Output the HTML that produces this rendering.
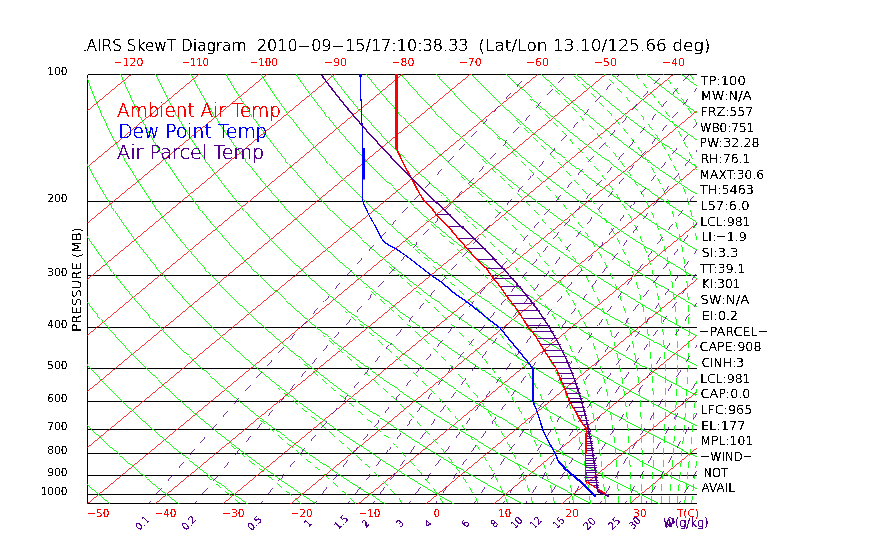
<!DOCTYPE html>
<html><head><meta charset="utf-8"><title>AIRS SkewT Diagram</title>
<style>
html,body{margin:0;padding:0;background:#fff;width:870px;height:560px;overflow:hidden}
svg{display:block;will-change:transform}
text{font-family:"DejaVu Sans","Liberation Sans",sans-serif;font-weight:200;stroke-width:0}
</style></head><body>
<svg width="870" height="560" viewBox="0 0 870 560">
<rect width="870" height="560" fill="#fff"/>
<defs><clipPath id="c"><rect x="87" y="74" width="610" height="430"/></clipPath></defs>
<g clip-path="url(#c)" fill="none" shape-rendering="crispEdges">
<g stroke="#000000"><path d="M87.5,74.5H696.5M87.5,74.5V503.5M87.5,503.5H696.5"/><path d="M87.5,201.5H696.5"/><path d="M87.5,275.5H696.5"/><path d="M87.5,327.5H696.5"/><path d="M87.5,368.5H696.5"/><path d="M87.5,401.5H696.5"/><path d="M87.5,429.5H696.5"/><path d="M87.5,453.5H696.5"/><path d="M87.5,475.5H696.5"/><path d="M87.5,494.5H696.5"/></g>
<g stroke="#ff0000" stroke-width="0.8"><line x1="-464.2" y1="511.8" x2="74.2" y2="65.6"/><line x1="-396.5" y1="511.8" x2="141.9" y2="65.6"/><line x1="-328.7" y1="511.8" x2="209.7" y2="65.6"/><line x1="-261.0" y1="511.8" x2="277.4" y2="65.6"/><line x1="-193.2" y1="511.8" x2="345.2" y2="65.6"/><line x1="-125.5" y1="511.8" x2="412.9" y2="65.6"/><line x1="-57.7" y1="511.8" x2="480.7" y2="65.6"/><line x1="10.0" y1="511.8" x2="548.4" y2="65.6"/><line x1="77.8" y1="511.8" x2="616.2" y2="65.6"/><line x1="145.5" y1="511.8" x2="683.9" y2="65.6"/><line x1="213.3" y1="511.8" x2="751.7" y2="65.6"/><line x1="281.0" y1="511.8" x2="819.4" y2="65.6"/><line x1="348.8" y1="511.8" x2="887.2" y2="65.6"/><line x1="416.5" y1="511.8" x2="954.9" y2="65.6"/><line x1="484.3" y1="511.8" x2="1022.7" y2="65.6"/><line x1="552.0" y1="511.8" x2="1090.4" y2="65.6"/><line x1="619.8" y1="511.8" x2="1158.2" y2="65.6"/><line x1="687.5" y1="511.8" x2="1225.9" y2="65.6"/></g>
<g stroke="#00ff00" stroke-width="0.9"><polyline points="119.6,511.8 113.8,507.1 108.2,502.4 102.6,497.7 97.1,493.0 91.7,488.3 86.3,483.6 81.1,478.9 75.9,474.2 70.8,469.5 65.8,464.8 60.9,460.1 56.0,455.4"/><polyline points="189.2,511.8 182.9,507.1 176.8,502.4 170.7,497.7 164.7,493.0 158.8,488.3 152.9,483.6 147.2,478.9 141.5,474.2 136.0,469.5 130.5,464.8 125.1,460.1 119.7,455.4 114.5,450.7 109.3,446.0 104.2,441.3 99.2,436.6 94.3,431.9 89.4,427.2 84.7,422.5 80.0,417.9 75.3,413.2 70.8,408.5 66.3,403.8 61.9,399.1 57.6,394.4 53.3,389.7"/><polyline points="258.8,511.8 252.0,507.1 245.4,502.4 238.8,497.7 232.3,493.0 225.9,488.3 219.5,483.6 213.3,478.9 207.2,474.2 201.1,469.5 195.1,464.8 189.3,460.1 183.5,455.4 177.7,450.7 172.1,446.0 166.6,441.3 161.1,436.6 155.7,431.9 150.4,427.2 145.2,422.5 140.0,417.9 135.0,413.2 130.0,408.5 125.1,403.8 120.2,399.1 115.5,394.4 110.8,389.7 106.2,385.0 101.7,380.3 97.2,375.6 92.9,370.9 88.6,366.2 84.3,361.5 80.2,356.8 76.1,352.1 72.1,347.4 68.1,342.7 64.3,338.0 60.5,333.3 56.7,328.6"/><polyline points="328.4,511.8 321.1,507.1 314.0,502.4 306.9,497.7 299.9,493.0 293.0,488.3 286.2,483.6 279.4,478.9 272.8,474.2 266.3,469.5 259.8,464.8 253.5,460.1 247.2,455.4 241.0,450.7 234.9,446.0 228.9,441.3 223.0,436.6 217.1,431.9 211.4,427.2 205.7,422.5 200.1,417.9 194.6,413.2 189.2,408.5 183.8,403.8 178.6,399.1 173.4,394.4 168.3,389.7 163.3,385.0 158.3,380.3 153.5,375.6 148.7,370.9 144.0,366.2 139.3,361.5 134.8,356.8 130.3,352.1 125.9,347.4 121.5,342.7 117.3,338.0 113.1,333.3 109.0,328.6 104.9,323.9 101.0,319.2 97.1,314.5 93.2,309.8 89.5,305.1 85.8,300.4 82.1,295.7 78.6,291.0 75.1,286.3 71.7,281.6 68.3,276.9 65.0,272.2 61.8,267.5 58.6,262.8 55.6,258.1"/><polyline points="398.0,511.8 390.3,507.1 382.6,502.4 375.0,497.7 367.5,493.0 360.1,488.3 352.8,483.6 345.6,478.9 338.4,474.2 331.4,469.5 324.5,464.8 317.7,460.1 310.9,455.4 304.3,450.7 297.7,446.0 291.2,441.3 284.8,436.6 278.5,431.9 272.3,427.2 266.2,422.5 260.2,417.9 254.2,413.2 248.4,408.5 242.6,403.8 236.9,399.1 231.3,394.4 225.8,389.7 220.3,385.0 215.0,380.3 209.7,375.6 204.5,370.9 199.4,366.2 194.3,361.5 189.4,356.8 184.5,352.1 179.7,347.4 174.9,342.7 170.3,338.0 165.7,333.3 161.2,328.6 156.8,323.9 152.4,319.2 148.1,314.5 143.9,309.8 139.8,305.1 135.7,300.4 131.7,295.7 127.8,291.0 124.0,286.3 120.2,281.6 116.5,276.9 112.8,272.2 109.3,267.5 105.7,262.8 102.3,258.1 98.9,253.4 95.6,248.7 92.4,244.1 89.2,239.4 86.1,234.7 83.1,230.0 80.1,225.3 77.2,220.6 74.3,215.9 71.5,211.2 68.8,206.5 66.1,201.8 63.5,197.1 61.0,192.4 58.5,187.7 56.1,183.0"/><polyline points="467.7,511.8 459.4,507.1 451.2,502.4 443.1,497.7 435.1,493.0 427.2,488.3 419.4,483.6 411.7,478.9 404.1,474.2 396.6,469.5 389.2,464.8 381.9,460.1 374.6,455.4 367.5,450.7 360.5,446.0 353.6,441.3 346.7,436.6 340.0,431.9 333.3,427.2 326.7,422.5 320.3,417.9 313.9,413.2 307.6,408.5 301.4,403.8 295.2,399.1 289.2,394.4 283.2,389.7 277.4,385.0 271.6,380.3 265.9,375.6 260.3,370.9 254.8,366.2 249.3,361.5 243.9,356.8 238.7,352.1 233.4,347.4 228.3,342.7 223.3,338.0 218.3,333.3 213.4,328.6 208.6,323.9 203.9,319.2 199.2,314.5 194.6,309.8 190.1,305.1 185.7,300.4 181.3,295.7 177.0,291.0 172.8,286.3 168.7,281.6 164.6,276.9 160.6,272.2 156.7,267.5 152.8,262.8 149.1,258.1 145.4,253.4 141.7,248.7 138.1,244.1 134.6,239.4 131.2,234.7 127.8,230.0 124.5,225.3 121.2,220.6 118.1,215.9 115.0,211.2 111.9,206.5 108.9,201.8 106.0,197.1 103.1,192.4 100.4,187.7 97.6,183.0 94.9,178.3 92.3,173.6 89.8,168.9 87.3,164.2 84.9,159.5 82.5,154.8 80.2,150.1 77.9,145.4 75.7,140.7 73.6,136.0 71.5,131.3 69.5,126.6 67.5,121.9 65.6,117.2 63.8,112.5 62.0,107.8 60.2,103.1 58.6,98.4 56.9,93.7"/><polyline points="537.3,511.8 528.5,507.1 519.8,502.4 511.2,497.7 502.7,493.0 494.3,488.3 486.0,483.6 477.8,478.9 469.7,474.2 461.7,469.5 453.8,464.8 446.0,460.1 438.4,455.4 430.8,450.7 423.3,446.0 415.9,441.3 408.6,436.6 401.4,431.9 394.3,427.2 387.3,422.5 380.3,417.9 373.5,413.2 366.8,408.5 360.1,403.8 353.6,399.1 347.1,394.4 340.7,389.7 334.4,385.0 328.2,380.3 322.1,375.6 316.1,370.9 310.2,366.2 304.3,361.5 298.5,356.8 292.8,352.1 287.2,347.4 281.7,342.7 276.3,338.0 270.9,333.3 265.6,328.6 260.4,323.9 255.3,319.2 250.3,314.5 245.3,309.8 240.5,305.1 235.7,300.4 230.9,295.7 226.3,291.0 221.7,286.3 217.2,281.6 212.8,276.9 208.4,272.2 204.2,267.5 200.0,262.8 195.8,258.1 191.8,253.4 187.8,248.7 183.9,244.1 180.0,239.4 176.2,234.7 172.5,230.0 168.9,225.3 165.3,220.6 161.8,215.9 158.4,211.2 155.0,206.5 151.7,201.8 148.5,197.1 145.3,192.4 142.2,187.7 139.2,183.0 136.2,178.3 133.3,173.6 130.4,168.9 127.6,164.2 124.9,159.5 122.3,154.8 119.7,150.1 117.1,145.4 114.6,140.7 112.2,136.0 109.8,131.3 107.5,126.6 105.3,121.9 103.1,117.2 101.0,112.5 98.9,107.8 96.9,103.1 94.9,98.4 93.0,93.7 91.2,89.0 89.4,84.3 87.7,79.6 86.0,74.9 84.4,70.3 82.8,65.6"/><polyline points="606.9,511.8 597.6,507.1 588.4,502.4 579.3,497.7 570.3,493.0 561.4,488.3 552.6,483.6 543.9,478.9 535.3,474.2 526.9,469.5 518.5,464.8 510.2,460.1 502.1,455.4 494.0,450.7 486.1,446.0 478.2,441.3 470.5,436.6 462.8,431.9 455.2,427.2 447.8,422.5 440.4,417.9 433.1,413.2 426.0,408.5 418.9,403.8 411.9,399.1 405.0,394.4 398.2,389.7 391.5,385.0 384.9,380.3 378.3,375.6 371.9,370.9 365.5,366.2 359.3,361.5 353.1,356.8 347.0,352.1 341.0,347.4 335.1,342.7 329.3,338.0 323.5,333.3 317.9,328.6 312.3,323.9 306.8,319.2 301.4,314.5 296.0,309.8 290.8,305.1 285.6,300.4 280.5,295.7 275.5,291.0 270.6,286.3 265.7,281.6 260.9,276.9 256.2,272.2 251.6,267.5 247.1,262.8 242.6,258.1 238.2,253.4 233.8,248.7 229.6,244.1 225.4,239.4 221.3,234.7 217.3,230.0 213.3,225.3 209.4,220.6 205.6,215.9 201.8,211.2 198.1,206.5 194.5,201.8 191.0,197.1 187.5,192.4 184.1,187.7 180.7,183.0 177.4,178.3 174.2,173.6 171.1,168.9 168.0,164.2 165.0,159.5 162.0,154.8 159.1,150.1 156.3,145.4 153.5,140.7 150.8,136.0 148.2,131.3 145.6,126.6 143.1,121.9 140.6,117.2 138.2,112.5 135.8,107.8 133.6,103.1 131.3,98.4 129.2,93.7 127.1,89.0 125.0,84.3 123.0,79.6 121.1,74.9 119.2,70.3 117.3,65.6"/><polyline points="676.5,511.8 666.7,507.1 657.0,502.4 647.4,497.7 637.9,493.0 628.5,488.3 619.2,483.6 610.0,478.9 601.0,474.2 592.0,469.5 583.2,464.8 574.4,460.1 565.8,455.4 557.3,450.7 548.9,446.0 540.6,441.3 532.3,436.6 524.2,431.9 516.2,427.2 508.3,422.5 500.5,417.9 492.8,413.2 485.2,408.5 477.6,403.8 470.2,399.1 462.9,394.4 455.7,389.7 448.5,385.0 441.5,380.3 434.6,375.6 427.7,370.9 420.9,366.2 414.3,361.5 407.7,356.8 401.2,352.1 394.8,347.4 388.5,342.7 382.3,338.0 376.1,333.3 370.1,328.6 364.1,323.9 358.2,319.2 352.5,314.5 346.7,309.8 341.1,305.1 335.6,300.4 330.1,295.7 324.7,291.0 319.4,286.3 314.2,281.6 309.1,276.9 304.0,272.2 299.1,267.5 294.2,262.8 289.3,258.1 284.6,253.4 279.9,248.7 275.3,244.1 270.8,239.4 266.4,234.7 262.0,230.0 257.7,225.3 253.5,220.6 249.3,215.9 245.3,211.2 241.2,206.5 237.3,201.8 233.4,197.1 229.7,192.4 225.9,187.7 222.3,183.0 218.7,178.3 215.2,173.6 211.7,168.9 208.3,164.2 205.0,159.5 201.8,154.8 198.6,150.1 195.5,145.4 192.4,140.7 189.4,136.0 186.5,131.3 183.6,126.6 180.8,121.9 178.1,117.2 175.4,112.5 172.8,107.8 170.2,103.1 167.7,98.4 165.3,93.7 162.9,89.0 160.6,84.3 158.3,79.6 156.1,74.9 154.0,70.3 151.9,65.6"/><polyline points="735.8,507.1 725.6,502.4 715.5,497.7 705.5,493.0 695.6,488.3 685.8,483.6 676.2,478.9 666.6,474.2 657.2,469.5 647.9,464.8 638.6,460.1 629.5,455.4 620.5,450.7 611.7,446.0 602.9,441.3 594.2,436.6 585.6,431.9 577.2,427.2 568.8,422.5 560.6,417.9 552.4,413.2 544.4,408.5 536.4,403.8 528.6,399.1 520.8,394.4 513.2,389.7 505.6,385.0 498.1,380.3 490.8,375.6 483.5,370.9 476.3,366.2 469.3,361.5 462.3,356.8 455.4,352.1 448.6,347.4 441.9,342.7 435.3,338.0 428.7,333.3 422.3,328.6 416.0,323.9 409.7,319.2 403.5,314.5 397.4,309.8 391.5,305.1 385.5,300.4 379.7,295.7 374.0,291.0 368.3,286.3 362.7,281.6 357.2,276.9 351.8,272.2 346.5,267.5 341.3,262.8 336.1,258.1 331.0,253.4 326.0,248.7 321.1,244.1 316.2,239.4 311.4,234.7 306.7,230.0 302.1,225.3 297.6,220.6 293.1,215.9 288.7,211.2 284.4,206.5 280.1,201.8 275.9,197.1 271.8,192.4 267.8,187.7 263.8,183.0 259.9,178.3 256.1,173.6 252.4,168.9 248.7,164.2 245.1,159.5 241.5,154.8 238.0,150.1 234.6,145.4 231.3,140.7 228.0,136.0 224.8,131.3 221.6,126.6 218.6,121.9 215.5,117.2 212.6,112.5 209.7,107.8 206.9,103.1 204.1,98.4 201.4,93.7 198.8,89.0 196.2,84.3 193.7,79.6 191.2,74.9 188.8,70.3 186.5,65.6"/><polyline points="732.2,474.2 722.3,469.5 712.5,464.8 702.8,460.1 693.3,455.4 683.8,450.7 674.5,446.0 665.2,441.3 656.1,436.6 647.1,431.9 638.2,427.2 629.3,422.5 620.6,417.9 612.0,413.2 603.6,408.5 595.2,403.8 586.9,399.1 578.7,394.4 570.6,389.7 562.7,385.0 554.8,380.3 547.0,375.6 539.3,370.9 531.7,366.2 524.3,361.5 516.9,356.8 509.6,352.1 502.4,347.4 495.3,342.7 488.3,338.0 481.4,333.3 474.5,328.6 467.8,323.9 461.2,319.2 454.6,314.5 448.2,309.8 441.8,305.1 435.5,300.4 429.3,295.7 423.2,291.0 417.2,286.3 411.2,281.6 405.4,276.9 399.6,272.2 394.0,267.5 388.4,262.8 382.8,258.1 377.4,253.4 372.1,248.7 366.8,244.1 361.6,239.4 356.5,234.7 351.5,230.0 346.5,225.3 341.6,220.6 336.8,215.9 332.1,211.2 327.5,206.5 322.9,201.8 318.4,197.1 314.0,192.4 309.6,187.7 305.4,183.0 301.2,178.3 297.1,173.6 293.0,168.9 289.0,164.2 285.1,159.5 281.3,154.8 277.5,150.1 273.8,145.4 270.2,140.7 266.6,136.0 263.1,131.3 259.7,126.6 256.3,121.9 253.0,117.2 249.8,112.5 246.6,107.8 243.5,103.1 240.5,98.4 237.5,93.7 234.6,89.0 231.8,84.3 229.0,79.6 226.3,74.9 223.6,70.3 221.0,65.6"/><polyline points="727.5,441.3 718.0,436.6 708.5,431.9 699.1,427.2 689.9,422.5 680.7,417.9 671.7,413.2 662.8,408.5 653.9,403.8 645.2,399.1 636.6,394.4 628.1,389.7 619.7,385.0 611.4,380.3 603.2,375.6 595.1,370.9 587.1,366.2 579.2,361.5 571.5,356.8 563.8,352.1 556.2,347.4 548.7,342.7 541.3,338.0 534.0,333.3 526.8,328.6 519.6,323.9 512.6,319.2 505.7,314.5 498.9,309.8 492.1,305.1 485.5,300.4 478.9,295.7 472.4,291.0 466.1,286.3 459.8,281.6 453.6,276.9 447.4,272.2 441.4,267.5 435.5,262.8 429.6,258.1 423.8,253.4 418.1,248.7 412.5,244.1 407.0,239.4 401.6,234.7 396.2,230.0 390.9,225.3 385.7,220.6 380.6,215.9 375.5,211.2 370.6,206.5 365.7,201.8 360.9,197.1 356.2,192.4 351.5,187.7 346.9,183.0 342.4,178.3 338.0,173.6 333.6,168.9 329.4,164.2 325.2,159.5 321.0,154.8 317.0,150.1 313.0,145.4 309.1,140.7 305.2,136.0 301.4,131.3 297.7,126.6 294.1,121.9 290.5,117.2 287.0,112.5 283.6,107.8 280.2,103.1 276.9,98.4 273.6,93.7 270.5,89.0 267.4,84.3 264.3,79.6 261.3,74.9 258.4,70.3 255.6,65.6"/><polyline points="731.3,413.2 722.0,408.5 712.7,403.8 703.6,399.1 694.5,394.4 685.6,389.7 676.8,385.0 668.0,380.3 659.4,375.6 650.9,370.9 642.5,366.2 634.2,361.5 626.0,356.8 617.9,352.1 610.0,347.4 602.1,342.7 594.3,338.0 586.6,333.3 579.0,328.6 571.5,323.9 564.1,319.2 556.8,314.5 549.6,309.8 542.4,305.1 535.4,300.4 528.5,295.7 521.7,291.0 514.9,286.3 508.3,281.6 501.7,276.9 495.2,272.2 488.9,267.5 482.6,262.8 476.4,258.1 470.2,253.4 464.2,248.7 458.3,244.1 452.4,239.4 446.6,234.7 440.9,230.0 435.3,225.3 429.8,220.6 424.3,215.9 419.0,211.2 413.7,206.5 408.5,201.8 403.4,197.1 398.3,192.4 393.4,187.7 388.5,183.0 383.7,178.3 378.9,173.6 374.3,168.9 369.7,164.2 365.2,159.5 360.8,154.8 356.4,150.1 352.1,145.4 347.9,140.7 343.8,136.0 339.7,131.3 335.7,126.6 331.8,121.9 328.0,117.2 324.2,112.5 320.5,107.8 316.8,103.1 313.3,98.4 309.8,93.7 306.3,89.0 303.0,84.3 299.6,79.6 296.4,74.9 293.2,70.3 290.1,65.6"/><polyline points="733.8,385.0 724.7,380.3 715.7,375.6 706.7,370.9 697.9,366.2 689.2,361.5 680.6,356.8 672.1,352.1 663.7,347.4 655.5,342.7 647.3,338.0 639.2,333.3 631.2,328.6 623.3,323.9 615.5,319.2 607.9,314.5 600.3,309.8 592.8,305.1 585.4,300.4 578.1,295.7 570.9,291.0 563.8,286.3 556.8,281.6 549.9,276.9 543.0,272.2 536.3,267.5 529.7,262.8 523.1,258.1 516.6,253.4 510.3,248.7 504.0,244.1 497.8,239.4 491.7,234.7 485.7,230.0 479.7,225.3 473.9,220.6 468.1,215.9 462.4,211.2 456.8,206.5 451.3,201.8 445.9,197.1 440.5,192.4 435.2,187.7 430.0,183.0 424.9,178.3 419.9,173.6 414.9,168.9 410.1,164.2 405.3,159.5 400.5,154.8 395.9,150.1 391.3,145.4 386.8,140.7 382.4,136.0 378.1,131.3 373.8,126.6 369.6,121.9 365.5,117.2 361.4,112.5 357.4,107.8 353.5,103.1 349.7,98.4 345.9,93.7 342.2,89.0 338.5,84.3 335.0,79.6 331.5,74.9 328.0,70.3 324.7,65.6"/><polyline points="735.2,356.8 726.3,352.1 717.5,347.4 708.8,342.7 700.3,338.0 691.8,333.3 683.4,328.6 675.2,323.9 667.0,319.2 658.9,314.5 651.0,309.8 643.1,305.1 635.4,300.4 627.7,295.7 620.1,291.0 612.7,286.3 605.3,281.6 598.0,276.9 590.8,272.2 583.8,267.5 576.8,262.8 569.9,258.1 563.1,253.4 556.3,248.7 549.7,244.1 543.2,239.4 536.7,234.7 530.4,230.0 524.1,225.3 517.9,220.6 511.8,215.9 505.8,211.2 499.9,206.5 494.1,201.8 488.3,197.1 482.7,192.4 477.1,187.7 471.6,183.0 466.2,178.3 460.8,173.6 455.6,168.9 450.4,164.2 445.3,159.5 440.3,154.8 435.3,150.1 430.5,145.4 425.7,140.7 421.0,136.0 416.4,131.3 411.8,126.6 407.3,121.9 402.9,117.2 398.6,112.5 394.3,107.8 390.2,103.1 386.0,98.4 382.0,93.7 378.0,89.0 374.1,84.3 370.3,79.6 366.6,74.9 362.9,70.3 359.2,65.6"/><polyline points="727.0,323.9 718.5,319.2 710.0,314.5 701.7,309.8 693.4,305.1 685.3,300.4 677.3,295.7 669.4,291.0 661.5,286.3 653.8,281.6 646.2,276.9 638.6,272.2 631.2,267.5 623.9,262.8 616.6,258.1 609.5,253.4 602.4,248.7 595.4,244.1 588.6,239.4 581.8,234.7 575.1,230.0 568.5,225.3 562.0,220.6 555.6,215.9 549.3,211.2 543.0,206.5 536.9,201.8 530.8,197.1 524.8,192.4 518.9,187.7 513.1,183.0 507.4,178.3 501.8,173.6 496.2,168.9 490.7,164.2 485.4,159.5 480.0,154.8 474.8,150.1 469.7,145.4 464.6,140.7 459.6,136.0 454.7,131.3 449.8,126.6 445.1,121.9 440.4,117.2 435.8,112.5 431.3,107.8 426.8,103.1 422.4,98.4 418.1,93.7 413.9,89.0 409.7,84.3 405.6,79.6 401.6,74.9 397.7,70.3 393.8,65.6"/><polyline points="726.9,295.7 718.6,291.0 710.4,286.3 702.3,281.6 694.3,276.9 686.4,272.2 678.7,267.5 671.0,262.8 663.4,258.1 655.9,253.4 648.5,248.7 641.2,244.1 634.0,239.4 626.9,234.7 619.8,230.0 612.9,225.3 606.1,220.6 599.4,215.9 592.7,211.2 586.1,206.5 579.7,201.8 573.3,197.1 567.0,192.4 560.8,187.7 554.7,183.0 548.7,178.3 542.7,173.6 536.9,168.9 531.1,164.2 525.4,159.5 519.8,154.8 514.3,150.1 508.8,145.4 503.5,140.7 498.2,136.0 493.0,131.3 487.9,126.6 482.8,121.9 477.9,117.2 473.0,112.5 468.2,107.8 463.5,103.1 458.8,98.4 454.2,93.7 449.7,89.0 445.3,84.3 441.0,79.6 436.7,74.9 432.5,70.3 428.4,65.6"/><polyline points="734.2,272.2 726.1,267.5 718.1,262.8 710.1,258.1 702.3,253.4 694.6,248.7 686.9,244.1 679.4,239.4 671.9,234.7 664.6,230.0 657.3,225.3 650.2,220.6 643.1,215.9 636.1,211.2 629.3,206.5 622.5,201.8 615.8,197.1 609.2,192.4 602.7,187.7 596.2,183.0 589.9,178.3 583.7,173.6 577.5,168.9 571.4,164.2 565.4,159.5 559.5,154.8 553.7,150.1 548.0,145.4 542.4,140.7 536.8,136.0 531.3,131.3 525.9,126.6 520.6,121.9 515.4,117.2 510.2,112.5 505.1,107.8 500.1,103.1 495.2,98.4 490.4,93.7 485.6,89.0 480.9,84.3 476.3,79.6 471.8,74.9 467.3,70.3 462.9,65.6"/><polyline points="732.6,244.1 724.8,239.4 717.0,234.7 709.3,230.0 701.7,225.3 694.2,220.6 686.9,215.9 679.6,211.2 672.4,206.5 665.3,201.8 658.3,197.1 651.3,192.4 644.5,187.7 637.8,183.0 631.2,178.3 624.6,173.6 618.1,168.9 611.8,164.2 605.5,159.5 599.3,154.8 593.2,150.1 587.2,145.4 581.2,140.7 575.4,136.0 569.6,131.3 563.9,126.6 558.4,121.9 552.8,117.2 547.4,112.5 542.1,107.8 536.8,103.1 531.6,98.4 526.5,93.7 521.5,89.0 516.5,84.3 511.6,79.6 506.8,74.9 502.1,70.3 497.5,65.6"/><polyline points="730.6,215.9 723.0,211.2 715.5,206.5 708.1,201.8 700.7,197.1 693.5,192.4 686.4,187.7 679.3,183.0 672.4,178.3 665.6,173.6 658.8,168.9 652.1,164.2 645.5,159.5 639.1,154.8 632.7,150.1 626.3,145.4 620.1,140.7 614.0,136.0 607.9,131.3 602.0,126.6 596.1,121.9 590.3,117.2 584.6,112.5 579.0,107.8 573.4,103.1 568.0,98.4 562.6,93.7 557.3,89.0 552.1,84.3 547.0,79.6 541.9,74.9 536.9,70.3 532.0,65.6"/><polyline points="728.2,187.7 720.9,183.0 713.7,178.3 706.5,173.6 699.4,168.9 692.5,164.2 685.6,159.5 678.8,154.8 672.1,150.1 665.5,145.4 659.0,140.7 652.6,136.0 646.3,131.3 640.0,126.6 633.9,121.9 627.8,117.2 621.8,112.5 615.9,107.8 610.1,103.1 604.4,98.4 598.7,93.7 593.2,89.0 587.7,84.3 582.3,79.6 577.0,74.9 571.7,70.3 566.6,65.6"/><polyline points="732.8,164.2 725.6,159.5 718.6,154.8 711.6,150.1 704.7,145.4 697.9,140.7 691.2,136.0 684.6,131.3 678.0,126.6 671.6,121.9 665.3,117.2 659.0,112.5 652.8,107.8 646.8,103.1 640.8,98.4 634.8,93.7 629.0,89.0 623.3,84.3 617.6,79.6 612.0,74.9 606.6,70.3 601.1,65.6"/><polyline points="729.8,136.0 722.9,131.3 716.1,126.6 709.4,121.9 702.7,117.2 696.2,112.5 689.8,107.8 683.4,103.1 677.1,98.4 671.0,93.7 664.9,89.0 658.9,84.3 652.9,79.6 647.1,74.9 641.4,70.3 635.7,65.6"/><polyline points="726.7,107.8 720.1,103.1 713.5,98.4 707.1,93.7 700.7,89.0 694.5,84.3 688.3,79.6 682.2,74.9 676.2,70.3 670.3,65.6"/></g>
<g stroke="#00ff00" stroke-width="0.9" stroke-dasharray="7 5"><polyline points="240.1,503.3 234.2,498.5 228.2,493.7 222.3,488.9 216.4,484.1 210.5,479.3 204.7,474.5"/><polyline points="300.8,503.3 295.1,498.5 289.4,493.7 283.7,488.9 277.9,484.1 272.1,479.3 266.3,474.5 260.5,469.6 254.6,464.8 248.8,460.0 243.0,455.2 237.2,450.4 231.4,445.6"/><polyline points="355.6,503.3 350.6,498.5 345.4,493.7 340.2,488.9 334.9,484.1 329.5,479.3 324.1,474.5 318.5,469.6 312.9,464.8 307.3,460.0 301.6,455.2 295.9,450.4 290.2,445.6 284.5,440.8 278.7,436.0 273.0,431.2 267.3,426.4 261.5,421.5 255.9,416.7"/><polyline points="403.4,503.3 399.2,498.5 394.8,493.7 390.4,488.9 385.8,484.1 381.1,479.3 376.3,474.5 371.3,469.6 366.3,464.8 361.2,460.0 356.0,455.2 350.7,450.4 345.3,445.6 339.9,440.8 334.4,436.0 328.9,431.2 323.3,426.4 317.7,421.5 312.0,416.7 306.4,411.9 300.7,407.1 295.1,402.3 289.4,397.5 283.8,392.7 278.2,387.9"/><polyline points="444.2,503.3 440.8,498.5 437.3,493.7 433.6,488.9 429.9,484.1 426.0,479.3 421.9,474.5 417.8,469.6 413.5,464.8 409.1,460.0 404.6,455.2 400.0,450.4 395.3,445.6 390.4,440.8 385.5,436.0 380.4,431.2 375.3,426.4 370.1,421.5 364.8,416.7 359.4,411.9 354.0,407.1 348.6,402.3 343.1,397.5 337.5,392.7 332.0,387.9 326.4,383.1 320.8,378.2 315.2,373.4 309.7,368.6 304.1,363.8 298.6,359.0"/><polyline points="478.8,503.3 476.1,498.5 473.3,493.7 470.4,488.9 467.4,484.1 464.3,479.3 461.1,474.5 457.7,469.6 454.3,464.8 450.7,460.0 447.0,455.2 443.1,450.4 439.2,445.6 435.1,440.8 430.9,436.0 426.5,431.2 422.1,426.4 417.5,421.5 412.8,416.7 408.0,411.9 403.1,407.1 398.1,402.3 393.1,397.5 387.9,392.7 382.7,387.9 377.4,383.1 372.0,378.2 366.6,373.4 361.2,368.6 355.7,363.8 350.2,359.0 344.7,354.2 339.2,349.4 333.7,344.6 328.2,339.8 322.8,334.9"/><polyline points="508.1,503.3 506.0,498.5 503.9,493.7 501.6,488.9 499.3,484.1 496.9,479.3 494.3,474.5 491.7,469.6 489.0,464.8 486.1,460.0 483.2,455.2 480.1,450.4 476.9,445.6 473.6,440.8 470.2,436.0 466.6,431.2 462.9,426.4 459.1,421.5 455.2,416.7 451.1,411.9 446.9,407.1 442.6,402.3 438.2,397.5 433.7,392.7 429.0,387.9 424.2,383.1 419.4,378.2 414.4,373.4 409.3,368.6 404.2,363.8 399.0,359.0 393.8,354.2 388.4,349.4 383.1,344.6 377.7,339.8 372.3,334.9 366.9,330.1 361.5,325.3 356.0,320.5 350.6,315.7 345.2,310.9"/><polyline points="533.2,503.3 531.6,498.5 530.0,493.7 528.3,488.9 526.5,484.1 524.6,479.3 522.7,474.5 520.6,469.6 518.5,464.8 516.3,460.0 514.0,455.2 511.6,450.4 509.1,445.6 506.5,440.8 503.8,436.0 501.0,431.2 498.1,426.4 495.0,421.5 491.8,416.7 488.5,411.9 485.1,407.1 481.6,402.3 477.9,397.5 474.1,392.7 470.1,387.9 466.1,383.1 461.9,378.2 457.6,373.4 453.1,368.6 448.6,363.8 443.9,359.0 439.1,354.2 434.3,349.4 429.3,344.6 424.3,339.8 419.2,334.9 414.0,330.1 408.8,325.3 403.5,320.5 398.2,315.7 392.8,310.9 387.5,306.1 382.1,301.3 376.8,296.5 371.4,291.7 366.1,286.8"/><polyline points="554.9,503.3 553.7,498.5 552.5,493.7 551.2,488.9 549.8,484.1 548.4,479.3 547.0,474.5 545.4,469.6 543.8,464.8 542.2,460.0 540.4,455.2 538.6,450.4 536.7,445.6 534.7,440.8 532.6,436.0 530.4,431.2 528.1,426.4 525.7,421.5 523.3,416.7 520.7,411.9 517.9,407.1 515.1,402.3 512.2,397.5 509.1,392.7 505.9,387.9 502.6,383.1 499.1,378.2 495.5,373.4 491.8,368.6 488.0,363.8 484.0,359.0 479.9,354.2 475.7,349.4 471.3,344.6 466.9,339.8 462.3,334.9 457.6,330.1 452.8,325.3 447.9,320.5 443.0,315.7 437.9,310.9 432.8,306.1 427.7,301.3 422.5,296.5 417.2,291.7 412.0,286.8 406.7,282.0 401.4,277.2 396.1,272.4 390.8,267.6 385.6,262.8"/><polyline points="573.8,503.3 572.9,498.5 572.0,493.7 571.1,488.9 570.1,484.1 569.1,479.3 568.0,474.5 566.9,469.6 565.7,464.8 564.5,460.0 563.2,455.2 561.8,450.4 560.4,445.6 558.9,440.8 557.3,436.0 555.6,431.2 553.9,426.4 552.1,421.5 550.2,416.7 548.2,411.9 546.1,407.1 543.9,402.3 541.6,397.5 539.2,392.7 536.7,387.9 534.1,383.1 531.3,378.2 528.5,373.4 525.5,368.6 522.4,363.8 519.1,359.0 515.7,354.2 512.2,349.4 508.6,344.6 504.8,339.8 500.9,334.9 496.9,330.1 492.7,325.3 488.4,320.5 484.0,315.7 479.5,310.9 474.9,306.1 470.1,301.3 465.3,296.5 460.4,291.7 455.4,286.8 450.4,282.0 445.3,277.2 440.1,272.4 435.0,267.6 429.8,262.8 424.5,258.0 419.3,253.2 414.1,248.4 408.9,243.5 403.7,238.7"/><polyline points="590.5,503.3 589.9,498.5 589.3,493.7 588.6,488.9 587.9,484.1 587.2,479.3 586.5,474.5 585.7,469.6 584.8,464.8 583.9,460.0 583.0,455.2 582.0,450.4 580.9,445.6 579.8,440.8 578.7,436.0 577.5,431.2 576.2,426.4 574.8,421.5 573.4,416.7 571.9,411.9 570.3,407.1 568.7,402.3 567.0,397.5 565.1,392.7 563.2,387.9 561.2,383.1 559.1,378.2 556.8,373.4 554.5,368.6 552.0,363.8 549.5,359.0 546.8,354.2 544.0,349.4 541.1,344.6 538.0,339.8 534.8,334.9 531.5,330.1 528.0,325.3 524.4,320.5 520.7,315.7 516.8,310.9 512.8,306.1 508.7,301.3 504.5,296.5 500.1,291.7 495.6,286.8 491.0,282.0 486.3,277.2 481.6,272.4 476.7,267.6 471.8,262.8 466.8,258.0 461.7,253.2 456.6,248.4 451.5,243.5 446.4,238.7 441.2,233.9 436.0,229.1 430.9,224.3 425.7,219.5"/><polyline points="605.4,503.3 605.0,498.5 604.6,493.7 604.2,488.9 603.7,484.1 603.2,479.3 602.7,474.5 602.2,469.6 601.6,464.8 601.0,460.0 600.4,455.2 599.7,450.4 599.0,445.6 598.2,440.8 597.4,436.0 596.5,431.2 595.6,426.4 594.6,421.5 593.6,416.7 592.5,411.9 591.4,407.1 590.2,402.3 588.9,397.5 587.5,392.7 586.1,387.9 584.6,383.1 583.0,378.2 581.3,373.4 579.5,368.6 577.7,363.8 575.7,359.0 573.6,354.2 571.4,349.4 569.2,344.6 566.8,339.8 564.2,334.9 561.6,330.1 558.8,325.3 555.9,320.5 552.9,315.7 549.7,310.9 546.4,306.1 543.0,301.3 539.4,296.5 535.7,291.7 531.9,286.8 527.9,282.0 523.8,277.2 519.5,272.4 515.2,267.6 510.7,262.8 506.2,258.0 501.5,253.2 496.8,248.4 491.9,243.5 487.0,238.7 482.1,233.9 477.1,229.1 472.0,224.3 466.9,219.5 461.8,214.7 456.7,209.9 451.6,205.1 446.5,200.3 441.4,195.4"/><polyline points="618.7,503.3 618.5,498.5 618.3,493.7 618.0,488.9 617.8,484.1 617.5,479.3 617.2,474.5 616.9,469.6 616.6,464.8 616.2,460.0 615.8,455.2 615.4,450.4 614.9,445.6 614.4,440.8 613.9,436.0 613.3,431.2 612.7,426.4 612.0,421.5 611.3,416.7 610.6,411.9 609.8,407.1 608.9,402.3 608.0,397.5 607.1,392.7 606.0,387.9 605.0,383.1 603.8,378.2 602.6,373.4 601.3,368.6 599.9,363.8 598.4,359.0 596.8,354.2 595.2,349.4 593.5,344.6 591.6,339.8 589.7,334.9 587.7,330.1 585.5,325.3 583.2,320.5 580.9,315.7 578.4,310.9 575.7,306.1 573.0,301.3 570.1,296.5 567.0,291.7 563.9,286.8 560.6,282.0 557.2,277.2 553.6,272.4 549.9,267.6 546.0,262.8 542.0,258.0 537.9,253.2 533.7,248.4 529.4,243.5 524.9,238.7 520.4,233.9 515.7,229.1 511.0,224.3 506.1,219.5 501.3,214.7 496.3,209.9 491.4,205.1 486.3,200.3 481.3,195.4 476.3,190.6 471.2,185.8 466.1,181.0 461.1,176.2"/><polyline points="630.7,503.3 630.7,498.5 630.6,493.7 630.6,488.9 630.5,484.1 630.4,479.3 630.3,474.5 630.1,469.6 630.0,464.8 629.8,460.0 629.6,455.2 629.4,450.4 629.1,445.6 628.9,440.8 628.6,436.0 628.2,431.2 627.9,426.4 627.5,421.5 627.0,416.7 626.6,411.9 626.1,407.1 625.5,402.3 624.9,397.5 624.3,392.7 623.6,387.9 622.8,383.1 622.0,378.2 621.2,373.4 620.2,368.6 619.3,363.8 618.2,359.0 617.1,354.2 615.9,349.4 614.6,344.6 613.3,339.8 611.8,334.9 610.3,330.1 608.7,325.3 607.0,320.5 605.1,315.7 603.2,310.9 601.2,306.1 599.0,301.3 596.8,296.5 594.4,291.7 591.9,286.8 589.2,282.0 586.5,277.2 583.6,272.4 580.5,267.6 577.4,262.8 574.0,258.0 570.6,253.2 567.0,248.4 563.2,243.5 559.4,238.7 555.4,233.9 551.3,229.1 547.0,224.3 542.6,219.5 538.2,214.7 533.6,209.9 529.0,205.1 524.2,200.3 519.4,195.4 514.5,190.6 509.6,185.8 504.7,181.0 499.7,176.2 494.7,171.4 489.7,166.6 484.7,161.8 479.7,157.0"/><polyline points="641.7,503.3 641.8,498.5 641.8,493.7 641.9,488.9 642.0,484.1 642.0,479.3 642.0,474.5 642.1,469.6 642.1,464.8 642.1,460.0 642.0,455.2 642.0,450.4 641.9,445.6 641.8,440.8 641.7,436.0 641.6,431.2 641.4,426.4 641.3,421.5 641.0,416.7 640.8,411.9 640.5,407.1 640.2,402.3 639.9,397.5 639.5,392.7 639.1,387.9 638.6,383.1 638.1,378.2 637.6,373.4 637.0,368.6 636.3,363.8 635.6,359.0 634.8,354.2 634.0,349.4 633.1,344.6 632.2,339.8 631.2,334.9 630.1,330.1 628.9,325.3 627.6,320.5 626.3,315.7 624.9,310.9 623.3,306.1 621.7,301.3 620.0,296.5 618.2,291.7 616.3,286.8 614.2,282.0 612.1,277.2 609.8,272.4 607.4,267.6 604.8,262.8 602.2,258.0 599.4,253.2 596.4,248.4 593.4,243.5 590.1,238.7 586.8,233.9 583.3,229.1 579.6,224.3 575.9,219.5 571.9,214.7 567.9,209.9 563.7,205.1 559.5,200.3 555.1,195.4 550.6,190.6 546.0,185.8 541.3,181.0 536.6,176.2 531.8,171.4 526.9,166.6 522.0,161.8 517.1,157.0 512.2,152.1 507.2,147.3 502.3,142.5 497.3,137.7"/><polyline points="651.7,503.3 651.9,498.5 652.1,493.7 652.3,488.9 652.4,484.1 652.6,479.3 652.8,474.5 652.9,469.6 653.1,464.8 653.2,460.0 653.3,455.2 653.4,450.4 653.5,445.6 653.6,440.8 653.6,436.0 653.7,431.2 653.7,426.4 653.7,421.5 653.6,416.7 653.6,411.9 653.5,407.1 653.4,402.3 653.3,397.5 653.1,392.7 652.9,387.9 652.7,383.1 652.5,378.2 652.2,373.4 651.8,368.6 651.5,363.8 651.0,359.0 650.6,354.2 650.0,349.4 649.5,344.6 648.9,339.8 648.2,334.9 647.4,330.1 646.6,325.3 645.8,320.5 644.8,315.7 643.8,310.9 642.7,306.1 641.6,301.3 640.3,296.5 639.0,291.7 637.5,286.8 636.0,282.0 634.4,277.2 632.7,272.4 630.8,267.6 628.9,262.8 626.8,258.0 624.6,253.2 622.3,248.4 619.8,243.5 617.2,238.7 614.5,233.9 611.7,229.1 608.7,224.3 605.5,219.5 602.2,214.7 598.8,209.9 595.3,205.1 591.6,200.3 587.7,195.4 583.7,190.6 579.6,185.8 575.4,181.0 571.1,176.2 566.7,171.4 562.2,166.6 557.5,161.8 552.9,157.0 548.1,152.1 543.3,147.3 538.5,142.5 533.6,137.7 528.7,132.9 523.8,128.1 518.9,123.3 514.0,118.5"/><polyline points="660.9,503.3 661.2,498.5 661.5,493.7 661.8,488.9 662.0,484.1 662.3,479.3 662.6,474.5 662.9,469.6 663.1,464.8 663.4,460.0 663.6,455.2 663.8,450.4 664.0,445.6 664.2,440.8 664.4,436.0 664.6,431.2 664.8,426.4 664.9,421.5 665.1,416.7 665.2,411.9 665.3,407.1 665.3,402.3 665.4,397.5 665.4,392.7 665.4,387.9 665.4,383.1 665.3,378.2 665.3,373.4 665.1,368.6 665.0,363.8 664.8,359.0 664.6,354.2 664.3,349.4 664.0,344.6 663.7,339.8 663.3,334.9 662.8,330.1 662.4,325.3 661.8,320.5 661.2,315.7 660.5,310.9 659.8,306.1 659.0,301.3 658.2,296.5 657.2,291.7 656.2,286.8 655.1,282.0 653.9,277.2 652.7,272.4 651.3,267.6 649.9,262.8 648.3,258.0 646.7,253.2 644.9,248.4 643.0,243.5 641.0,238.7 638.9,233.9 636.6,229.1 634.2,224.3 631.7,219.5 629.1,214.7 626.3,209.9 623.3,205.1 620.3,200.3 617.0,195.4 613.7,190.6 610.2,185.8 606.5,181.0 602.7,176.2 598.8,171.4 594.8,166.6 590.6,161.8 586.3,157.0 582.0,152.1 577.5,147.3 572.9,142.5 568.3,137.7 563.6,132.9 558.8,128.1 554.0,123.3 549.2,118.5 544.4,113.7 539.5,108.8 534.7,104.0 529.8,99.2"/><polyline points="669.4,503.3 669.8,498.5 670.1,493.7 670.5,488.9 670.9,484.1 671.3,479.3 671.6,474.5 672.0,469.6 672.3,464.8 672.7,460.0 673.0,455.2 673.4,450.4 673.7,445.6 674.0,440.8 674.3,436.0 674.6,431.2 674.9,426.4 675.2,421.5 675.5,416.7 675.7,411.9 675.9,407.1 676.2,402.3 676.4,397.5 676.5,392.7 676.7,387.9 676.9,383.1 677.0,378.2 677.1,373.4 677.1,368.6 677.2,363.8 677.2,359.0 677.2,354.2 677.1,349.4 677.1,344.6 677.0,339.8 676.8,334.9 676.6,330.1 676.4,325.3 676.1,320.5 675.8,315.7 675.4,310.9 675.0,306.1 674.5,301.3 674.0,296.5 673.4,291.7 672.7,286.8 672.0,282.0 671.2,277.2 670.3,272.4 669.4,267.6 668.3,262.8 667.2,258.0 666.0,253.2 664.7,248.4 663.3,243.5 661.8,238.7 660.2,233.9 658.5,229.1 656.7,224.3 654.7,219.5 652.7,214.7 650.5,209.9 648.1,205.1 645.7,200.3 643.1,195.4 640.3,190.6 637.4,185.8 634.4,181.0 631.2,176.2 627.9,171.4 624.4,166.6 620.8,161.8 617.1,157.0 613.2,152.1 609.2,147.3 605.1,142.5 600.8,137.7 596.5,132.9 592.0,128.1 587.5,123.3 582.9,118.5 578.3,113.7 573.6,108.8 568.8,104.0 564.0,99.2 559.2,94.4 554.4,89.6 549.6,84.8"/><polyline points="677.3,503.3 677.7,498.5 678.2,493.7 678.6,488.9 679.1,484.1 679.5,479.3 680.0,474.5 680.4,469.6 680.8,464.8 681.3,460.0 681.7,455.2 682.1,450.4 682.6,445.6 683.0,440.8 683.4,436.0 683.8,431.2 684.2,426.4 684.6,421.5 685.0,416.7 685.3,411.9 685.7,407.1 686.1,402.3 686.4,397.5 686.7,392.7 687.0,387.9 687.3,383.1 687.6,378.2 687.8,373.4 688.0,368.6 688.3,363.8 688.4,359.0 688.6,354.2 688.7,349.4 688.8,344.6 688.9,339.8 689.0,334.9 689.0,330.1 689.0,325.3 688.9,320.5 688.8,315.7 688.7,310.9 688.5,306.1 688.3,301.3 688.0,296.5 687.7,291.7 687.4,286.8 686.9,282.0 686.5,277.2 685.9,272.4 685.3,267.6 684.6,262.8 683.9,258.0 683.1,253.2 682.2,248.4 681.2,243.5 680.1,238.7 679.0,233.9 677.7,229.1 676.4,224.3 674.9,219.5 673.4,214.7 671.7,209.9 669.9,205.1 668.0,200.3 666.0,195.4 663.8,190.6 661.5,185.8 659.1,181.0 656.5,176.2 653.8,171.4 651.0,166.6 648.0,161.8 644.8,157.0 641.5,152.1 638.1,147.3 634.5,142.5 630.8,137.7 626.9,132.9 622.9,128.1 618.8,123.3 614.6,118.5 610.3,113.7 605.9,108.8 601.4,104.0 596.8,99.2 592.2,94.4 587.5,89.6 582.8,84.8 578.1,80.0 573.3,75.2 568.5,70.4 563.8,65.6"/><polyline points="684.6,503.3 685.1,498.5 685.6,493.7 686.2,488.9 686.7,484.1 687.2,479.3 687.7,474.5 688.2,469.6 688.7,464.8 689.2,460.0 689.8,455.2 690.3,450.4 690.8,445.6 691.3,440.8 691.8,436.0 692.3,431.2 692.8,426.4 693.3,421.5 693.7,416.7 694.2,411.9 694.7,407.1 695.1,402.3 695.6,397.5 696.0,392.7 696.4,387.9 696.8,383.1 697.2,378.2 697.6,373.4 698.0,368.6 698.3,363.8 698.7,359.0 699.0,354.2 699.3,349.4 699.5,344.6 699.8,339.8 700.0,334.9 700.2,330.1 700.4,325.3 700.5,320.5 700.6,315.7 700.7,310.9 700.7,306.1 700.7,301.3 700.7,296.5 700.6,291.7 700.5,286.8 700.3,282.0 700.1,277.2 699.9,272.4 699.5,267.6 699.2,262.8 698.7,258.0 698.2,253.2 697.7,248.4 697.1,243.5 696.4,238.7 695.6,233.9 694.7,229.1 693.8,224.3 692.8,219.5 691.7,214.7 690.4,209.9 689.1,205.1 687.7,200.3 686.2,195.4 684.6,190.6 682.8,185.8 680.9,181.0 678.9,176.2 676.8,171.4 674.5,166.6 672.1,161.8 669.5,157.0 666.8,152.1 664.0,147.3 661.0,142.5 657.9,137.7 654.6,132.9 651.1,128.1 647.6,123.3 643.9,118.5 640.0,113.7 636.0,108.8 631.9,104.0 627.7,99.2 623.4,94.4 619.0,89.6 614.6,84.8 610.0,80.0 605.4,75.2 600.8,70.4 596.1,65.6"/><polyline points="691.5,503.3 692.0,498.5 692.6,493.7 693.2,488.9 693.8,484.1 694.3,479.3 694.9,474.5 695.5,469.6 696.1,464.8 696.7,460.0 697.2,455.2 697.8,450.4 698.4,445.6 699.0,440.8 699.6,436.0 700.1,431.2 700.7,426.4 701.3,421.5 701.9,416.7 702.4,411.9 703.0,407.1 703.5,402.3 704.1,397.5 704.6,392.7 705.1,387.9 705.6,383.1 706.1,378.2 706.6,373.4 707.1,368.6 707.6,363.8 708.0,359.0 708.5,354.2 708.9,349.4 709.3,344.6 709.7,339.8 710.1,334.9 710.4,330.1 710.7,325.3 711.0,320.5 711.3,315.7 711.6,310.9 711.8,306.1 712.0,301.3 712.1,296.5 712.3,291.7 712.4,286.8 712.4,282.0 712.4,277.2 712.4,272.4 712.3,267.6 712.2,262.8 712.0,258.0 711.8,253.2 711.5,248.4 711.2,243.5 710.8,238.7 710.4,233.9 709.8,229.1 709.3,224.3 708.6,219.5 707.8,214.7 707.0,209.9 706.1,205.1 705.1,200.3 704.0,195.4 702.8,190.6 701.6,185.8 700.2,181.0 698.7,176.2 697.0,171.4 695.3,166.6 693.4,161.8 691.4,157.0 689.3,152.1 687.0,147.3 684.6,142.5 682.1,137.7 679.4,132.9 676.5,128.1 673.5,123.3 670.4,118.5 667.1,113.7 663.6,108.8 660.1,104.0 656.3,99.2 652.5,94.4 648.5,89.6 644.4,84.8 640.2,80.0 635.9,75.2 631.5,70.4 627.1,65.6"/><polyline points="697.9,503.3 698.5,498.5 699.1,493.7 699.7,488.9 700.4,484.1 701.0,479.3 701.6,474.5 702.3,469.6 702.9,464.8 703.6,460.0 704.2,455.2 704.9,450.4 705.5,445.6 706.1,440.8 706.8,436.0 707.4,431.2 708.1,426.4 708.7,421.5 709.4,416.7 710.0,411.9 710.7,407.1 711.3,402.3 711.9,397.5 712.5,392.7 713.2,387.9 713.8,383.1 714.4,378.2 715.0,373.4 715.5,368.6 716.1,363.8 716.7,359.0 717.2,354.2 717.8,349.4 718.3,344.6 718.8,339.8 719.3,334.9 719.8,330.1 720.2,325.3 720.7,320.5 721.1,315.7 721.5,310.9 721.9,306.1 722.2,301.3 722.5,296.5 722.8,291.7 723.1,286.8 723.3,282.0 723.5,277.2 723.7,272.4 723.9,267.6 723.9,262.8 724.0,258.0 724.0,253.2 724.0,248.4 723.9,243.5 723.8,238.7 723.6,233.9 723.4,229.1 723.1,224.3 722.7,219.5 722.3,214.7 721.8,209.9 721.2,205.1 720.6,200.3 719.9,195.4 719.1,190.6 718.2,185.8 717.2,181.0 716.1,176.2 715.0,171.4 713.7,166.6 712.3,161.8 710.8,157.0 709.2,152.1 707.4,147.3 705.6,142.5 703.6,137.7 701.4,132.9 699.1,128.1 696.7,123.3 694.1,118.5 691.4,113.7 688.6,108.8 685.5,104.0 682.4,99.2 679.1,94.4 675.6,89.6 672.0,84.8 668.3,80.0 664.4,75.2 660.4,70.4 656.3,65.6"/><polyline points="703.9,503.3 704.6,498.5 705.2,493.7 705.9,488.9 706.6,484.1 707.3,479.3 707.9,474.5 708.6,469.6 709.3,464.8 710.0,460.0 710.7,455.2 711.4,450.4 712.1,445.6 712.8,440.8 713.6,436.0 714.3,431.2 715.0,426.4 715.7,421.5 716.4,416.7 717.1,411.9 717.8,407.1 718.5,402.3 719.2,397.5 719.9,392.7 720.6,387.9 721.3,383.1 722.0,378.2 722.7,373.4 723.3,368.6 724.0,363.8 724.7,359.0 725.3,354.2 725.9,349.4 726.6,344.6 726.8,152.1 725.5,147.3 724.1,142.5 722.6,137.7 721.0,132.9 719.2,128.1 717.3,123.3 715.3,118.5 713.1,113.7 710.8,108.8 708.4,104.0 705.8,99.2 703.0,94.4 700.1,89.6 697.1,84.8 693.9,80.0 690.5,75.2 687.1,70.4 683.4,65.6"/></g>
<g stroke="#550090" stroke-width="0.8" stroke-dasharray="8 9" stroke-dashoffset="5"><polyline points="148.5,503.3 152.6,498.5 156.7,493.7 160.8,488.9 164.9,484.1 169.1,479.3 173.2,474.5 177.3,469.6 181.4,464.8 185.6,460.0 189.7,455.2 193.8,450.4 198.0,445.6 202.1,440.8 206.3,436.0 210.4,431.2 214.6,426.4 218.7,421.5 222.9,416.7 227.1,411.9 231.2,407.1 235.4,402.3 239.6,397.5 243.8,392.7 248.0,387.9 252.2,383.1 256.4,378.2 260.6,373.4 264.8,368.6 269.0,363.8 273.2,359.0 277.4,354.2 281.6,349.4 285.8,344.6 290.0,339.8 294.3,334.9 298.5,330.1 302.7,325.3 307.0,320.5 311.2,315.7 315.5,310.9 319.7,306.1 324.0,301.3 328.2,296.5 332.5,291.7 336.7,286.8 341.0,282.0 345.3,277.2 349.5,272.4 353.8,267.6 358.1,262.8 362.4,258.0 366.7,253.2 370.9,248.4 375.2,243.5 379.5,238.7 383.8,233.9 388.1,229.1 392.4,224.3 396.7,219.5 401.0,214.7 405.4,209.9 409.7,205.1 414.0,200.3 418.3,195.4 422.6,190.6 427.0,185.8 431.3,181.0 435.6,176.2 440.0,171.4 444.3,166.6 448.7,161.8 453.0,157.0 457.4,152.1 461.7,147.3 466.1,142.5 470.4,137.7 474.8,132.9 479.1,128.1 483.5,123.3 487.9,118.5 492.3,113.7 496.6,108.8 501.0,104.0 505.4,99.2 509.8,94.4 514.2,89.6 518.6,84.8 522.9,80.0 527.3,75.2 531.7,70.4 536.1,65.6"/><polyline points="194.8,503.3 198.8,498.5 202.7,493.7 206.7,488.9 210.7,484.1 214.7,479.3 218.8,474.5 222.8,469.6 226.8,464.8 230.8,460.0 234.8,455.2 238.9,450.4 242.9,445.6 246.9,440.8 251.0,436.0 255.0,431.2 259.1,426.4 263.1,421.5 267.2,416.7 271.3,411.9 275.3,407.1 279.4,402.3 283.5,397.5 287.6,392.7 291.7,387.9 295.7,383.1 299.8,378.2 303.9,373.4 308.0,368.6 312.1,363.8 316.3,359.0 320.4,354.2 324.5,349.4 328.6,344.6 332.7,339.8 336.9,334.9 341.0,330.1 345.1,325.3 349.3,320.5 353.4,315.7 357.6,310.9 361.7,306.1 365.9,301.3 370.0,296.5 374.2,291.7 378.4,286.8 382.6,282.0 386.7,277.2 390.9,272.4 395.1,267.6 399.3,262.8 403.5,258.0 407.7,253.2 411.9,248.4 416.1,243.5 420.3,238.7 424.5,233.9 428.7,229.1 432.9,224.3 437.1,219.5 441.3,214.7 445.6,209.9 449.8,205.1 454.0,200.3 458.3,195.4 462.5,190.6 466.7,185.8 471.0,181.0 475.2,176.2 479.5,171.4 483.8,166.6 488.0,161.8 492.3,157.0 496.5,152.1 500.8,147.3 505.1,142.5 509.4,137.7 513.6,132.9 517.9,128.1 522.2,123.3 526.5,118.5 530.8,113.7 535.1,108.8 539.4,104.0 543.7,99.2 548.0,94.4 552.3,89.6 556.6,84.8 560.9,80.0 565.3,75.2 569.6,70.4 573.9,65.6"/><polyline points="260.8,503.3 264.6,498.5 268.4,493.7 272.2,488.9 276.1,484.1 279.9,479.3 283.7,474.5 287.6,469.6 291.4,464.8 295.3,460.0 299.2,455.2 303.0,450.4 306.9,445.6 310.8,440.8 314.7,436.0 318.6,431.2 322.4,426.4 326.3,421.5 330.3,416.7 334.2,411.9 338.1,407.1 342.0,402.3 345.9,397.5 349.8,392.7 353.8,387.9 357.7,383.1 361.7,378.2 365.6,373.4 369.5,368.6 373.5,363.8 377.5,359.0 381.4,354.2 385.4,349.4 389.4,344.6 393.4,339.8 397.3,334.9 401.3,330.1 405.3,325.3 409.3,320.5 413.3,315.7 417.3,310.9 421.3,306.1 425.3,301.3 429.4,296.5 433.4,291.7 437.4,286.8 441.5,282.0 445.5,277.2 449.5,272.4 453.6,267.6 457.6,262.8 461.7,258.0 465.7,253.2 469.8,248.4 473.9,243.5 477.9,238.7 482.0,233.9 486.1,229.1 490.2,224.3 494.3,219.5 498.4,214.7 502.4,209.9 506.5,205.1 510.6,200.3 514.8,195.4 518.9,190.6 523.0,185.8 527.1,181.0 531.2,176.2 535.4,171.4 539.5,166.6 543.6,161.8 547.8,157.0 551.9,152.1 556.0,147.3 560.2,142.5 564.4,137.7 568.5,132.9 572.7,128.1 576.8,123.3 581.0,118.5 585.2,113.7 589.4,108.8 593.5,104.0 597.7,99.2 601.9,94.4 606.1,89.6 610.3,84.8 614.5,80.0 618.7,75.2 622.9,70.4 627.1,65.6"/><polyline points="314.8,503.3 318.5,498.5 322.2,493.7 325.9,488.9 329.5,484.1 333.2,479.3 336.9,474.5 340.6,469.6 344.4,464.8 348.1,460.0 351.8,455.2 355.5,450.4 359.3,445.6 363.0,440.8 366.7,436.0 370.5,431.2 374.2,426.4 378.0,421.5 381.8,416.7 385.5,411.9 389.3,407.1 393.1,402.3 396.9,397.5 400.7,392.7 404.5,387.9 408.3,383.1 412.1,378.2 415.9,373.4 419.7,368.6 423.6,363.8 427.4,359.0 431.2,354.2 435.1,349.4 438.9,344.6 442.8,339.8 446.6,334.9 450.5,330.1 454.4,325.3 458.2,320.5 462.1,315.7 466.0,310.9 469.9,306.1 473.8,301.3 477.7,296.5 481.6,291.7 485.5,286.8 489.4,282.0 493.3,277.2 497.2,272.4 501.2,267.6 505.1,262.8 509.0,258.0 513.0,253.2 516.9,248.4 520.9,243.5 524.8,238.7 528.8,233.9 532.7,229.1 536.7,224.3 540.7,219.5 544.7,214.7 548.6,209.9 552.6,205.1 556.6,200.3 560.6,195.4 564.6,190.6 568.6,185.8 572.6,181.0 576.7,176.2 580.7,171.4 584.7,166.6 588.7,161.8 592.8,157.0 596.8,152.1 600.8,147.3 604.9,142.5 608.9,137.7 613.0,132.9 617.0,128.1 621.1,123.3 625.2,118.5 629.2,113.7 633.3,108.8 637.4,104.0 641.5,99.2 645.5,94.4 649.6,89.6 653.7,84.8 657.8,80.0 661.9,75.2 666.0,70.4 670.1,65.6"/><polyline points="348.3,503.3 351.9,498.5 355.5,493.7 359.1,488.9 362.7,484.1 366.3,479.3 369.9,474.5 373.5,469.6 377.1,464.8 380.7,460.0 384.3,455.2 388.0,450.4 391.6,445.6 395.3,440.8 398.9,436.0 402.6,431.2 406.3,426.4 409.9,421.5 413.6,416.7 417.3,411.9 421.0,407.1 424.7,402.3 428.4,397.5 432.1,392.7 435.8,387.9 439.5,383.1 443.3,378.2 447.0,373.4 450.7,368.6 454.5,363.8 458.2,359.0 462.0,354.2 465.7,349.4 469.5,344.6 473.3,339.8 477.0,334.9 480.8,330.1 484.6,325.3 488.4,320.5 492.2,315.7 496.0,310.9 499.8,306.1 503.6,301.3 507.4,296.5 511.3,291.7 515.1,286.8 518.9,282.0 522.8,277.2 526.6,272.4 530.5,267.6 534.3,262.8 538.2,258.0 542.1,253.2 545.9,248.4 549.8,243.5 553.7,238.7 557.6,233.9 561.5,229.1 565.4,224.3 569.3,219.5 573.2,214.7 577.1,209.9 581.0,205.1 584.9,200.3 588.8,195.4 592.8,190.6 596.7,185.8 600.6,181.0 604.6,176.2 608.5,171.4 612.5,166.6 616.4,161.8 620.4,157.0 624.4,152.1 628.3,147.3 632.3,142.5 636.3,137.7 640.3,132.9 644.3,128.1 648.3,123.3 652.3,118.5 656.3,113.7 660.3,108.8 664.3,104.0 668.3,99.2 672.3,94.4 676.4,89.6 680.4,84.8 684.4,80.0 688.5,75.2 692.5,70.4 696.6,65.6"/><polyline points="373.0,503.3 376.5,498.5 380.0,493.7 383.5,488.9 387.0,484.1 390.5,479.3 394.1,474.5 397.6,469.6 401.2,464.8 404.7,460.0 408.3,455.2 411.9,450.4 415.4,445.6 419.0,440.8 422.6,436.0 426.2,431.2 429.8,426.4 433.4,421.5 437.0,416.7 440.6,411.9 444.3,407.1 447.9,402.3 451.5,397.5 455.2,392.7 458.8,387.9 462.5,383.1 466.1,378.2 469.8,373.4 473.5,368.6 477.2,363.8 480.9,359.0 484.6,354.2 488.2,349.4 492.0,344.6 495.7,339.8 499.4,334.9 503.1,330.1 506.8,325.3 510.6,320.5 514.3,315.7 518.0,310.9 521.8,306.1 525.5,301.3 529.3,296.5 533.1,291.7 536.8,286.8 540.6,282.0 544.4,277.2 548.2,272.4 552.0,267.6 555.8,262.8 559.6,258.0 563.4,253.2 567.2,248.4 571.0,243.5 574.9,238.7 578.7,233.9 582.5,229.1 586.4,224.3 590.2,219.5 594.1,214.7 597.9,209.9 601.8,205.1 605.6,200.3 609.5,195.4 613.4,190.6 617.3,185.8 621.2,181.0 625.0,176.2 628.9,171.4 632.8,166.6 636.8,161.8 640.7,157.0 644.6,152.1 648.5,147.3 652.4,142.5 656.4,137.7 660.3,132.9 664.2,128.1 668.2,123.3 672.1,118.5 676.1,113.7 680.0,108.8 684.0,104.0 688.0,99.2 691.9,94.4 695.9,89.6 699.9,84.8 703.9,80.0 707.9,75.2 711.9,70.4 715.9,65.6"/><polyline points="409.0,503.3 412.4,498.5 415.8,493.7 419.2,488.9 422.6,484.1 426.1,479.3 429.5,474.5 432.9,469.6 436.4,464.8 439.8,460.0 443.3,455.2 446.8,450.4 450.2,445.6 453.7,440.8 457.2,436.0 460.7,431.2 464.2,426.4 467.7,421.5 471.2,416.7 474.7,411.9 478.3,407.1 481.8,402.3 485.3,397.5 488.9,392.7 492.4,387.9 496.0,383.1 499.6,378.2 503.2,373.4 506.7,368.6 510.3,363.8 513.9,359.0 517.5,354.2 521.1,349.4 524.7,344.6 528.3,339.8 532.0,334.9 535.6,330.1 539.2,325.3 542.9,320.5 546.5,315.7 550.2,310.9 553.8,306.1 557.5,301.3 561.2,296.5 564.9,291.7 568.5,286.8 572.2,282.0 575.9,277.2 579.6,272.4 583.3,267.6 587.1,262.8 590.8,258.0 594.5,253.2 598.2,248.4 602.0,243.5 605.7,238.7 609.5,233.9 613.2,229.1 617.0,224.3 620.7,219.5 624.5,214.7 628.3,209.9 632.1,205.1 635.8,200.3 639.6,195.4 643.4,190.6 647.2,185.8 651.0,181.0 654.9,176.2 658.7,171.4 662.5,166.6 666.3,161.8 670.2,157.0 674.0,152.1 677.8,147.3 681.7,142.5 685.5,137.7 689.4,132.9 693.3,128.1 697.1,123.3 701.0,118.5 704.9,113.7 708.8,108.8 712.7,104.0 716.6,99.2 720.5,94.4 724.4,89.6 728.3,84.8"/><polyline points="435.6,503.3 438.9,498.5 442.2,493.7 445.5,488.9 448.9,484.1 452.2,479.3 455.6,474.5 458.9,469.6 462.3,464.8 465.7,460.0 469.1,455.2 472.4,450.4 475.8,445.6 479.2,440.8 482.7,436.0 486.1,431.2 489.5,426.4 492.9,421.5 496.4,416.7 499.8,411.9 503.3,407.1 506.7,402.3 510.2,397.5 513.7,392.7 517.2,387.9 520.7,383.1 524.2,378.2 527.7,373.4 531.2,368.6 534.7,363.8 538.2,359.0 541.7,354.2 545.3,349.4 548.8,344.6 552.4,339.8 555.9,334.9 559.5,330.1 563.1,325.3 566.6,320.5 570.2,315.7 573.8,310.9 577.4,306.1 581.0,301.3 584.6,296.5 588.2,291.7 591.8,286.8 595.5,282.0 599.1,277.2 602.7,272.4 606.4,267.6 610.0,262.8 613.7,258.0 617.3,253.2 621.0,248.4 624.7,243.5 628.4,238.7 632.0,233.9 635.7,229.1 639.4,224.3 643.1,219.5 646.8,214.7 650.6,209.9 654.3,205.1 658.0,200.3 661.7,195.4 665.5,190.6 669.2,185.8 673.0,181.0 676.7,176.2 680.5,171.4 684.2,166.6 688.0,161.8 691.8,157.0 695.6,152.1 699.4,147.3 703.1,142.5 706.9,137.7 710.8,132.9 714.6,128.1 718.4,123.3 722.2,118.5 726.0,113.7 729.8,108.8"/><polyline points="474.4,503.3 477.6,498.5 480.8,493.7 484.0,488.9 487.2,484.1 490.5,479.3 493.7,474.5 497.0,469.6 500.2,464.8 503.5,460.0 506.7,455.2 510.0,450.4 513.3,445.6 516.6,440.8 519.9,436.0 523.2,431.2 526.5,426.4 529.8,421.5 533.2,416.7 536.5,411.9 539.8,407.1 543.2,402.3 546.6,397.5 549.9,392.7 553.3,387.9 556.7,383.1 560.1,378.2 563.5,373.4 566.9,368.6 570.3,363.8 573.7,359.0 577.1,354.2 580.6,349.4 584.0,344.6 587.4,339.8 590.9,334.9 594.4,330.1 597.8,325.3 601.3,320.5 604.8,315.7 608.3,310.9 611.8,306.1 615.3,301.3 618.8,296.5 622.3,291.7 625.8,286.8 629.3,282.0 632.9,277.2 636.4,272.4 640.0,267.6 643.5,262.8 647.1,258.0 650.6,253.2 654.2,248.4 657.8,243.5 661.4,238.7 665.0,233.9 668.6,229.1 672.2,224.3 675.8,219.5 679.4,214.7 683.0,209.9 686.7,205.1 690.3,200.3 693.9,195.4 697.6,190.6 701.2,185.8 704.9,181.0 708.6,176.2 712.2,171.4 715.9,166.6 719.6,161.8 723.3,157.0 727.0,152.1"/><polyline points="503.0,503.3 506.1,498.5 509.3,493.7 512.4,488.9 515.5,484.1 518.6,479.3 521.8,474.5 525.0,469.6 528.1,464.8 531.3,460.0 534.5,455.2 537.7,450.4 540.9,445.6 544.1,440.8 547.3,436.0 550.5,431.2 553.7,426.4 557.0,421.5 560.2,416.7 563.5,411.9 566.7,407.1 570.0,402.3 573.3,397.5 576.6,392.7 579.9,387.9 583.2,383.1 586.5,378.2 589.8,373.4 593.1,368.6 596.5,363.8 599.8,359.0 603.1,354.2 606.5,349.4 609.9,344.6 613.2,339.8 616.6,334.9 620.0,330.1 623.4,325.3 626.8,320.5 630.2,315.7 633.6,310.9 637.0,306.1 640.4,301.3 643.9,296.5 647.3,291.7 650.8,286.8 654.2,282.0 657.7,277.2 661.1,272.4 664.6,267.6 668.1,262.8 671.6,258.0 675.1,253.2 678.6,248.4 682.1,243.5 685.6,238.7 689.1,233.9 692.7,229.1 696.2,224.3 699.7,219.5 703.3,214.7 706.9,209.9 710.4,205.1 714.0,200.3 717.6,195.4 721.1,190.6 724.7,185.8 728.3,181.0"/><polyline points="525.8,503.3 528.9,498.5 531.9,493.7 535.0,488.9 538.0,484.1 541.1,479.3 544.2,474.5 547.3,469.6 550.4,464.8 553.5,460.0 556.6,455.2 559.7,450.4 562.8,445.6 566.0,440.8 569.1,436.0 572.3,431.2 575.4,426.4 578.6,421.5 581.8,416.7 585.0,411.9 588.2,407.1 591.4,402.3 594.6,397.5 597.8,392.7 601.0,387.9 604.3,383.1 607.5,378.2 610.8,373.4 614.0,368.6 617.3,363.8 620.6,359.0 623.8,354.2 627.1,349.4 630.4,344.6 633.7,339.8 637.1,334.9 640.4,330.1 643.7,325.3 647.0,320.5 650.4,315.7 653.7,310.9 657.1,306.1 660.5,301.3 663.8,296.5 667.2,291.7 670.6,286.8 674.0,282.0 677.4,277.2 680.8,272.4 684.2,267.6 687.7,262.8 691.1,258.0 694.5,253.2 698.0,248.4 701.4,243.5 704.9,238.7 708.4,233.9 711.8,229.1 715.3,224.3 718.8,219.5 722.3,214.7 725.8,209.9 729.3,205.1"/><polyline points="544.9,503.3 547.9,498.5 550.8,493.7 553.8,488.9 556.8,484.1 559.8,479.3 562.9,474.5 565.9,469.6 568.9,464.8 572.0,460.0 575.0,455.2 578.1,450.4 581.1,445.6 584.2,440.8 587.3,436.0 590.4,431.2 593.5,426.4 596.6,421.5 599.8,416.7 602.9,411.9 606.0,407.1 609.2,402.3 612.3,397.5 615.5,392.7 618.7,387.9 621.8,383.1 625.0,378.2 628.2,373.4 631.4,368.6 634.7,363.8 637.9,359.0 641.1,354.2 644.3,349.4 647.6,344.6 650.8,339.8 654.1,334.9 657.4,330.1 660.6,325.3 663.9,320.5 667.2,315.7 670.5,310.9 673.8,306.1 677.2,301.3 680.5,296.5 683.8,291.7 687.1,286.8 690.5,282.0 693.8,277.2 697.2,272.4 700.6,267.6 703.9,262.8 707.3,258.0 710.7,253.2 714.1,248.4 717.5,243.5 720.9,238.7 724.4,233.9 727.8,229.1"/><polyline points="568.7,503.3 571.6,498.5 574.5,493.7 577.4,488.9 580.3,484.1 583.2,479.3 586.2,474.5 589.1,469.6 592.1,464.8 595.1,460.0 598.0,455.2 601.0,450.4 604.0,445.6 607.0,440.8 610.0,436.0 613.1,431.2 616.1,426.4 619.1,421.5 622.2,416.7 625.3,411.9 628.3,407.1 631.4,402.3 634.5,397.5 637.6,392.7 640.7,387.9 643.8,383.1 646.9,378.2 650.0,373.4 653.2,368.6 656.3,363.8 659.5,359.0 662.6,354.2 665.8,349.4 669.0,344.6 672.2,339.8 675.4,334.9 678.6,330.1 681.8,325.3 685.0,320.5 688.2,315.7 691.5,310.9 694.7,306.1 698.0,301.3 701.2,296.5 704.5,291.7 707.8,286.8 711.1,282.0 714.3,277.2 717.6,272.4 720.9,267.6 724.3,262.8 727.6,258.0"/><polyline points="600.1,503.3 602.9,498.5 605.7,493.7 608.5,488.9 611.3,484.1 614.2,479.3 617.0,474.5 619.9,469.6 622.7,464.8 625.6,460.0 628.5,455.2 631.4,450.4 634.3,445.6 637.2,440.8 640.1,436.0 643.0,431.2 645.9,426.4 648.9,421.5 651.8,416.7 654.8,411.9 657.8,407.1 660.8,402.3 663.7,397.5 666.7,392.7 669.8,387.9 672.8,383.1 675.8,378.2 678.8,373.4 681.9,368.6 684.9,363.8 688.0,359.0 691.1,354.2 694.2,349.4 697.2,344.6 700.3,339.8 703.4,334.9 706.6,330.1 709.7,325.3 712.8,320.5 716.0,315.7 719.1,310.9 722.3,306.1 725.4,301.3 728.6,296.5"/><polyline points="625.1,503.3 627.8,498.5 630.5,493.7 633.2,488.9 636.0,484.1 638.7,479.3 641.5,474.5 644.3,469.6 647.0,464.8 649.8,460.0 652.6,455.2 655.4,450.4 658.2,445.6 661.1,440.8 663.9,436.0 666.8,431.2 669.6,426.4 672.5,421.5 675.4,416.7 678.2,411.9 681.1,407.1 684.0,402.3 687.0,397.5 689.9,392.7 692.8,387.9 695.8,383.1 698.7,378.2 701.7,373.4 704.6,368.6 707.6,363.8 710.6,359.0 713.6,354.2 716.6,349.4 719.6,344.6 722.7,339.8 725.7,334.9 728.7,330.1"/><polyline points="645.9,503.3 648.5,498.5 651.1,493.7 653.8,488.9 656.5,484.1 659.1,479.3 661.8,474.5 664.5,469.6 667.2,464.8 670.0,460.0 672.7,455.2 675.4,450.4 678.2,445.6 680.9,440.8 683.7,436.0 686.5,431.2 689.3,426.4 692.1,421.5 694.9,416.7 697.7,411.9 700.6,407.1 703.4,402.3 706.2,397.5 709.1,392.7 712.0,387.9 714.9,383.1 717.7,378.2 720.6,373.4 723.6,368.6 726.5,363.8 729.4,359.0"/><polyline points="679.2,503.3 681.7,498.5 684.3,493.7 686.8,488.9 689.4,484.1 691.9,479.3 694.5,474.5 697.1,469.6 699.7,464.8 702.3,460.0 704.9,455.2 707.5,450.4 710.2,445.6 712.8,440.8 715.5,436.0 718.2,431.2 720.9,426.4 723.6,421.5 726.3,416.7 729.0,411.9"/></g>
</g>
<path d="M424.7,201.5H437.5M436.4,214.5H451.0M448.3,226.5H463.5M458.1,238.5H475.8M467.3,248.5H485.8M476.7,259.5H496.5M486.5,268.5H504.9M493.4,278.5H514.2M500.2,286.5H521.2M506.2,295.5H528.6M512.2,303.5H534.9M517.8,310.5H540.0M522.8,318.5H545.5M527.3,325.5H550.1M531.8,331.5H553.8M537.0,338.5H557.8M540.7,344.5H561.0M544.3,350.5H564.1M548.2,356.5H567.0M552.2,362.5H569.7M556.1,368.5H572.2M558.2,373.5H574.2M560.4,378.5H576.1M562.5,383.5H577.9M564.6,388.5H579.6M566.5,393.5H581.2M568.4,398.5H582.7M570.2,402.5H583.9M573.2,407.5H585.2M575.6,411.5H586.3M577.8,415.5H587.3M580.4,420.5H588.5M583.3,424.5H589.4M586.3,428.5H590.2M586.3,431.5H590.8M586.2,433.5H591.2M586.1,436.5H591.8M586.1,438.5H592.2M586.0,441.5H592.8M585.9,443.5H593.1M585.9,445.5H593.4M585.9,448.5H594.0M585.8,450.5H594.3M585.8,453.5H594.8M585.8,455.5H595.1M585.7,458.5H595.5M585.7,460.5H595.8M585.7,463.5H596.2M585.7,465.5H596.5M585.7,467.5H596.8M585.7,470.5H597.2M585.6,472.5H597.4M585.6,475.5H597.8M585.6,477.5H598.0M585.6,480.5H598.3M587.5,482.5H598.6M592.3,485.5H598.9M595.5,487.5H599.1" stroke="#550090" stroke-width="1" fill="none" shape-rendering="crispEdges"/>
<rect x="395" y="74" width="3" height="75" fill="#ff0000"/>
<polyline points="396.5,148.8 402.5,161.2 407.5,171.2 411.9,178.8 416.9,188.8 421.2,196.2 424.4,201.2 431.2,207.5 436.2,214.4 448.1,226.2 458.1,238.5 467.5,248.8 476.9,259.8 486.2,268.1 493.1,278.1 500.0,286.2 506.2,295.6 511.9,303.1 517.5,310.0 522.5,318.1 528.9,327.9 535.4,335.9 543.9,349.8 550.4,360.0 555.7,367.5 557.9,372.9 563.8,386.2 569.4,401.2 576.2,412.5 580.0,420.0 586.4,428.6 586.0,440.0 585.7,460.0 585.6,481.3 608.7,495.8" fill="none" stroke="#ff0000" stroke-width="1.45" stroke-linejoin="round" shape-rendering="crispEdges"/>
<polyline points="360.5,75.0 360.5,100.0 361.5,100.0 361.5,124.0 362.5,124.0 362.5,148.0" fill="none" stroke="#0000ff" stroke-width="1.3" stroke-linejoin="round" shape-rendering="crispEdges"/>
<rect x="362" y="148" width="3" height="31.5" fill="#0000ff"/>
<rect x="359" y="74" width="3" height="3" fill="#0000ff"/>
<polyline points="362.5,148.0 362.5,201.0 368.6,214.3 375.0,225.7 380.7,237.1 383.6,241.4 388.6,245.0 395.7,248.6 405.0,255.0 414.3,262.1 423.6,269.3 431.4,275.4" fill="none" stroke="#0000ff" stroke-width="1.2" stroke-linejoin="round" shape-rendering="crispEdges"/>
<polyline points="431.4,275.4 441.4,282.1 455.7,294.3 467.1,302.1 480.0,312.1 491.4,321.4 500.0,327.9 508.6,338.6 518.6,350.7 528.6,362.9 532.9,368.6 532.9,401.4 537.1,411.4 542.9,430.0 548.6,441.4 555.0,453.6 558.6,461.4" fill="none" stroke="#0000ff" stroke-width="1.4" stroke-linejoin="round" shape-rendering="crispEdges"/>
<polyline points="558.6,461.4 565.7,469.3 580.0,481.3 595.9,496.8" fill="none" stroke="#0000ff" stroke-width="2.2" stroke-linejoin="round" shape-rendering="crispEdges"/>
<polyline points="597.5,491.5 596.8,484.4 596.0,477.4 595.1,470.3 594.2,463.3 593.2,456.2 592.1,449.1 590.9,442.1 589.5,435.0 588.1,428.0 586.6,420.9 584.9,413.8 583.1,406.8 581.1,399.7 578.9,392.6 576.6,385.6 574.1,378.5 571.4,371.5 568.5,364.4 565.4,357.3 562.0,350.3 558.4,343.2 554.5,336.2 550.3,329.1 545.9,322.0 541.2,315.0 536.2,307.9 530.9,300.9 525.3,293.8 519.4,286.7 513.2,279.7 506.8,272.6 500.2,265.5 493.5,258.5 486.7,251.4 479.7,244.4 472.6,237.3 465.3,230.2 458.0,223.2 450.7,216.1 443.3,209.1 436.0,202.0 428.7,194.9 421.4,187.9 414.3,180.8 407.2,173.8 400.3,166.7 393.5,159.6 386.8,152.6 380.3,145.5 373.7,138.4 367.3,131.4 361.1,124.3 355.0,117.3 349.0,110.2 343.2,103.1 337.5,96.1 332.0,89.0 326.7,82.0 321.5,74.9" fill="none" stroke="#550090" stroke-width="1.45" stroke-linejoin="round" shape-rendering="crispEdges"/>
<polyline points="597.5,491.5 609.5,496.5" fill="none" stroke="#550090" stroke-width="1.6" stroke-linejoin="round" shape-rendering="crispEdges"/>
<path d="M597,488L600.5,492L597,492Z" fill="#550090"/>
<defs><filter id="ca" filterUnits="userSpaceOnUse" x="0" y="0" width="870" height="560"><feComponentTransfer><feFuncA type="discrete" tableValues="0 1"/></feComponentTransfer></filter><filter id="cc" filterUnits="userSpaceOnUse" x="0" y="0" width="870" height="560"><feComponentTransfer><feFuncA type="discrete" tableValues="0 1 1 1 1"/></feComponentTransfer></filter><filter id="cd" filterUnits="userSpaceOnUse" x="0" y="0" width="870" height="560"><feComponentTransfer><feFuncA type="discrete" tableValues="0 1 1 1 1 1 1"/></feComponentTransfer></filter><filter id="cb" filterUnits="userSpaceOnUse" x="0" y="0" width="870" height="560"><feComponentTransfer><feFuncA type="discrete" tableValues="0 1 1 1"/></feComponentTransfer></filter></defs><g filter="url(#cc)"><rect x="84.6" y="50" width="1" height="1.2" fill="#000"/>
<text x="113.5" y="65.6" font-size="9.6" fill="#ff0000" stroke="#ff0000" textLength="29.9" lengthAdjust="spacingAndGlyphs">−120</text>
<text x="181.7" y="65.6" font-size="9.6" fill="#ff0000" stroke="#ff0000" textLength="27.2" lengthAdjust="spacingAndGlyphs">−110</text>
<text x="249.7" y="65.6" font-size="9.6" fill="#ff0000" stroke="#ff0000" textLength="28.2" lengthAdjust="spacingAndGlyphs">−100</text>
<text x="323.8" y="65.6" font-size="9.6" fill="#ff0000" stroke="#ff0000" textLength="23.1" lengthAdjust="spacingAndGlyphs">−90</text>
<text x="391.4" y="65.6" font-size="9.6" fill="#ff0000" stroke="#ff0000" textLength="23.0" lengthAdjust="spacingAndGlyphs">−80</text>
<text x="458.7" y="65.6" font-size="9.6" fill="#ff0000" stroke="#ff0000" textLength="23.0" lengthAdjust="spacingAndGlyphs">−70</text>
<text x="525.9" y="65.6" font-size="9.6" fill="#ff0000" stroke="#ff0000" textLength="23.0" lengthAdjust="spacingAndGlyphs">−60</text>
<text x="593.8" y="65.6" font-size="9.6" fill="#ff0000" stroke="#ff0000" textLength="23.1" lengthAdjust="spacingAndGlyphs">−50</text>
<text x="662.1" y="65.6" font-size="9.6" fill="#ff0000" stroke="#ff0000" textLength="23.0" lengthAdjust="spacingAndGlyphs">−40</text>
<text x="87.3" y="516.8" font-size="9.6" fill="#ff0000" stroke="#ff0000" textLength="22.1" lengthAdjust="spacingAndGlyphs">−50</text>
<text x="154.5" y="516.8" font-size="9.6" fill="#ff0000" stroke="#ff0000" textLength="21.8" lengthAdjust="spacingAndGlyphs">−40</text>
<text x="222.3" y="516.8" font-size="9.6" fill="#ff0000" stroke="#ff0000" textLength="22.3" lengthAdjust="spacingAndGlyphs">−30</text>
<text x="291.1" y="516.8" font-size="9.6" fill="#ff0000" stroke="#ff0000" textLength="21.3" lengthAdjust="spacingAndGlyphs">−20</text>
<text x="358.5" y="516.8" font-size="9.6" fill="#ff0000" stroke="#ff0000" textLength="21.8" lengthAdjust="spacingAndGlyphs">−10</text>
<text x="433.7" y="516.8" font-size="9.6" fill="#ff0000" stroke="#ff0000" textLength="6.4" lengthAdjust="spacingAndGlyphs">0</text>
<text x="498.3" y="516.8" font-size="9.6" fill="#ff0000" stroke="#ff0000" textLength="13.0" lengthAdjust="spacingAndGlyphs">10</text>
<text x="565.6" y="516.8" font-size="9.6" fill="#ff0000" stroke="#ff0000" textLength="13.5" lengthAdjust="spacingAndGlyphs">20</text>
<text x="633.3" y="516.8" font-size="9.6" fill="#ff0000" stroke="#ff0000" textLength="13.2" lengthAdjust="spacingAndGlyphs">30</text>
<text x="676.9" y="516.8" font-size="9.8" fill="#ff0000" stroke="#ff0000" textLength="22.0" lengthAdjust="spacingAndGlyphs">T(C)</text>
<text x="67.6" y="74.9" font-size="10.6" fill="#000000" stroke="#000000" text-anchor="end">100</text>
<text x="67.6" y="201.9" font-size="10.6" fill="#000000" stroke="#000000" text-anchor="end">200</text>
<text x="67.6" y="275.9" font-size="10.6" fill="#000000" stroke="#000000" text-anchor="end">300</text>
<text x="67.6" y="327.9" font-size="10.6" fill="#000000" stroke="#000000" text-anchor="end">400</text>
<text x="67.6" y="368.9" font-size="10.6" fill="#000000" stroke="#000000" text-anchor="end">500</text>
<text x="67.6" y="401.9" font-size="10.6" fill="#000000" stroke="#000000" text-anchor="end">600</text>
<text x="67.6" y="429.9" font-size="10.6" fill="#000000" stroke="#000000" text-anchor="end">700</text>
<text x="67.6" y="453.9" font-size="10.6" fill="#000000" stroke="#000000" text-anchor="end">800</text>
<text x="67.6" y="475.9" font-size="10.6" fill="#000000" stroke="#000000" text-anchor="end">900</text>
<text x="67.6" y="494.9" font-size="10.6" fill="#000000" stroke="#000000" text-anchor="end">1000</text>
<text transform="translate(81.4,331.8) rotate(-90)" x="0" y="0" font-size="12.8" fill="#000000" stroke="#000000" textLength="104.3" lengthAdjust="spacingAndGlyphs">PRESSURE (MB)</text>
<text x="700.4" y="84.6" font-size="12.9" fill="#000000" stroke="#000000" textLength="45.4" lengthAdjust="spacingAndGlyphs">TP:100</text>
<text x="700.4" y="100.3" font-size="12.9" fill="#000000" stroke="#000000" textLength="51.3" lengthAdjust="spacingAndGlyphs">MW:N/A</text>
<text x="700.4" y="116.0" font-size="12.9" fill="#000000" stroke="#000000" textLength="52.9" lengthAdjust="spacingAndGlyphs">FRZ:557</text>
<text x="699.9" y="131.6" font-size="12.9" fill="#000000" stroke="#000000" textLength="54.3" lengthAdjust="spacingAndGlyphs">WB0:751</text>
<text x="699.3" y="147.3" font-size="12.9" fill="#000000" stroke="#000000" textLength="60.4" lengthAdjust="spacingAndGlyphs">PW:32.28</text>
<text x="700.4" y="163.0" font-size="12.9" fill="#000000" stroke="#000000" textLength="50.2" lengthAdjust="spacingAndGlyphs">RH:76.1</text>
<text x="699.6" y="178.7" font-size="12.9" fill="#000000" stroke="#000000" textLength="64.4" lengthAdjust="spacingAndGlyphs">MAXT:30.6</text>
<text x="699.9" y="194.4" font-size="12.9" fill="#000000" stroke="#000000" textLength="53.9" lengthAdjust="spacingAndGlyphs">TH:5463</text>
<text x="700.2" y="210.0" font-size="12.9" fill="#000000" stroke="#000000" textLength="49.3" lengthAdjust="spacingAndGlyphs">L57:6.0</text>
<text x="700.2" y="225.7" font-size="12.9" fill="#000000" stroke="#000000" textLength="50.3" lengthAdjust="spacingAndGlyphs">LCL:981</text>
<text x="701.4" y="241.4" font-size="12.9" fill="#000000" stroke="#000000" textLength="45.2" lengthAdjust="spacingAndGlyphs">LI:−1.9</text>
<text x="701.4" y="257.1" font-size="12.9" fill="#000000" stroke="#000000" textLength="37.0" lengthAdjust="spacingAndGlyphs">SI:3.3</text>
<text x="699.5" y="272.8" font-size="12.9" fill="#000000" stroke="#000000" textLength="46.0" lengthAdjust="spacingAndGlyphs">TT:39.1</text>
<text x="701.4" y="288.4" font-size="12.9" fill="#000000" stroke="#000000" textLength="39.1" lengthAdjust="spacingAndGlyphs">KI:301</text>
<text x="700.2" y="304.1" font-size="12.9" fill="#000000" stroke="#000000" textLength="49.3" lengthAdjust="spacingAndGlyphs">SW:N/A</text>
<text x="701.9" y="319.8" font-size="12.9" fill="#000000" stroke="#000000" textLength="36.2" lengthAdjust="spacingAndGlyphs">EI:0.2</text>
<text x="698.8" y="335.5" font-size="12.9" fill="#000000" stroke="#000000" textLength="69.6" lengthAdjust="spacingAndGlyphs">−PARCEL−</text>
<text x="699.5" y="351.2" font-size="12.9" fill="#000000" stroke="#000000" textLength="62.0" lengthAdjust="spacingAndGlyphs">CAPE:908</text>
<text x="701.4" y="366.8" font-size="12.9" fill="#000000" stroke="#000000" textLength="42.7" lengthAdjust="spacingAndGlyphs">CINH:3</text>
<text x="700.2" y="382.5" font-size="12.9" fill="#000000" stroke="#000000" textLength="50.3" lengthAdjust="spacingAndGlyphs">LCL:981</text>
<text x="700.5" y="398.2" font-size="12.9" fill="#000000" stroke="#000000" textLength="50.0" lengthAdjust="spacingAndGlyphs">CAP:0.0</text>
<text x="700.2" y="413.9" font-size="12.9" fill="#000000" stroke="#000000" textLength="52.2" lengthAdjust="spacingAndGlyphs">LFC:965</text>
<text x="700.9" y="429.6" font-size="12.9" fill="#000000" stroke="#000000" textLength="44.6" lengthAdjust="spacingAndGlyphs">EL:177</text>
<text x="700.2" y="445.2" font-size="12.9" fill="#000000" stroke="#000000" textLength="53.2" lengthAdjust="spacingAndGlyphs">MPL:101</text>
<text x="700.5" y="460.9" font-size="12.9" fill="#000000" stroke="#000000" textLength="51.9" lengthAdjust="spacingAndGlyphs">−WIND−</text>
<text x="703.4" y="476.6" font-size="12.9" fill="#000000" stroke="#000000" textLength="24.7" lengthAdjust="spacingAndGlyphs">NOT</text>
<text x="701.6" y="492.3" font-size="12.9" fill="#000000" stroke="#000000" textLength="33.2" lengthAdjust="spacingAndGlyphs">AVAIL</text>
<text x="663.1" y="527.0" font-size="11.8" fill="#550090" stroke="#550090" textLength="45.6" lengthAdjust="spacingAndGlyphs">W(g/kg)</text></g><g filter="url(#cb)"><text x="86.6" y="51.2" font-size="15.5" fill="#000000" stroke="#000000" textLength="159.8" lengthAdjust="spacingAndGlyphs" style="stroke-width:0" class="ttl">AIRS SkewT Diagram</text>
<text x="256.8" y="51.2" font-size="15.5" fill="#000000" stroke="#000000" textLength="211.8" lengthAdjust="spacingAndGlyphs" style="stroke-width:0" class="ttl">2010−09−15/17:10:38.33</text>
<text x="478.3" y="51.2" font-size="15.5" fill="#000000" stroke="#000000" textLength="232.0" lengthAdjust="spacingAndGlyphs" style="stroke-width:0" class="ttl">(Lat/Lon 13.10/125.66 deg)</text>
<text x="117.1" y="116.9" font-size="18.6" fill="#ff0000" stroke="#ff0000" textLength="163.8" lengthAdjust="spacingAndGlyphs" style="stroke-width:0">Ambient Air Temp</text>
<text x="118.2" y="138.0" font-size="18.6" fill="#0000ff" stroke="#0000ff" textLength="149.3" lengthAdjust="spacingAndGlyphs" style="stroke-width:0">Dew Point Temp</text>
<text x="117.1" y="159.1" font-size="18.6" fill="#550090" stroke="#550090" textLength="147.2" lengthAdjust="spacingAndGlyphs" style="stroke-width:0">Air Parcel Temp</text></g><g filter="url(#cd)"><text transform="translate(142.3,522.9) rotate(-45)" x="0" y="3.4" font-size="9.6" fill="#550090" stroke="#550090" text-anchor="middle">0.1</text>
<text transform="translate(188.8,522.9) rotate(-45)" x="0" y="3.4" font-size="9.6" fill="#550090" stroke="#550090" text-anchor="middle">0.2</text>
<text transform="translate(254.4,523.1) rotate(-45)" x="0" y="3.4" font-size="9.6" fill="#550090" stroke="#550090" text-anchor="middle">0.5</text>
<text transform="translate(307.8,523.2) rotate(-45)" x="0" y="3.4" font-size="9.6" fill="#550090" stroke="#550090" text-anchor="middle">1</text>
<text transform="translate(341.0,522.2) rotate(-45)" x="0" y="3.4" font-size="9.6" fill="#550090" stroke="#550090" text-anchor="middle">1.5</text>
<text transform="translate(365.6,523.5) rotate(-45)" x="0" y="3.4" font-size="9.6" fill="#550090" stroke="#550090" text-anchor="middle">2</text>
<text transform="translate(400.1,523.4) rotate(-45)" x="0" y="3.4" font-size="9.6" fill="#550090" stroke="#550090" text-anchor="middle">3</text>
<text transform="translate(427.9,523.4) rotate(-45)" x="0" y="3.4" font-size="9.6" fill="#550090" stroke="#550090" text-anchor="middle">4</text>
<text transform="translate(465.4,523.4) rotate(-45)" x="0" y="3.4" font-size="9.6" fill="#550090" stroke="#550090" text-anchor="middle">6</text>
<text transform="translate(494.2,523.4) rotate(-45)" x="0" y="3.4" font-size="9.6" fill="#550090" stroke="#550090" text-anchor="middle">8</text>
<text transform="translate(516.3,522.6) rotate(-45)" x="0" y="3.4" font-size="9.6" fill="#550090" stroke="#550090" text-anchor="middle">10</text>
<text transform="translate(535.7,522.6) rotate(-45)" x="0" y="3.4" font-size="9.6" fill="#550090" stroke="#550090" text-anchor="middle">12</text>
<text transform="translate(558.5,522.6) rotate(-45)" x="0" y="3.4" font-size="9.6" fill="#550090" stroke="#550090" text-anchor="middle">15</text>
<text transform="translate(589.5,523.5) rotate(-45)" x="0" y="3.4" font-size="9.6" fill="#550090" stroke="#550090" text-anchor="middle">20</text>
<text transform="translate(614.2,523.2) rotate(-45)" x="0" y="3.4" font-size="9.6" fill="#550090" stroke="#550090" text-anchor="middle">25</text>
<text transform="translate(634.6,522.9) rotate(-45)" x="0" y="3.4" font-size="9.6" fill="#550090" stroke="#550090" text-anchor="middle">30</text>
<text transform="translate(669.2,522.8) rotate(-45)" x="0" y="3.4" font-size="9.6" fill="#550090" stroke="#550090" text-anchor="middle">40</text></g>
</svg>
</body></html>
